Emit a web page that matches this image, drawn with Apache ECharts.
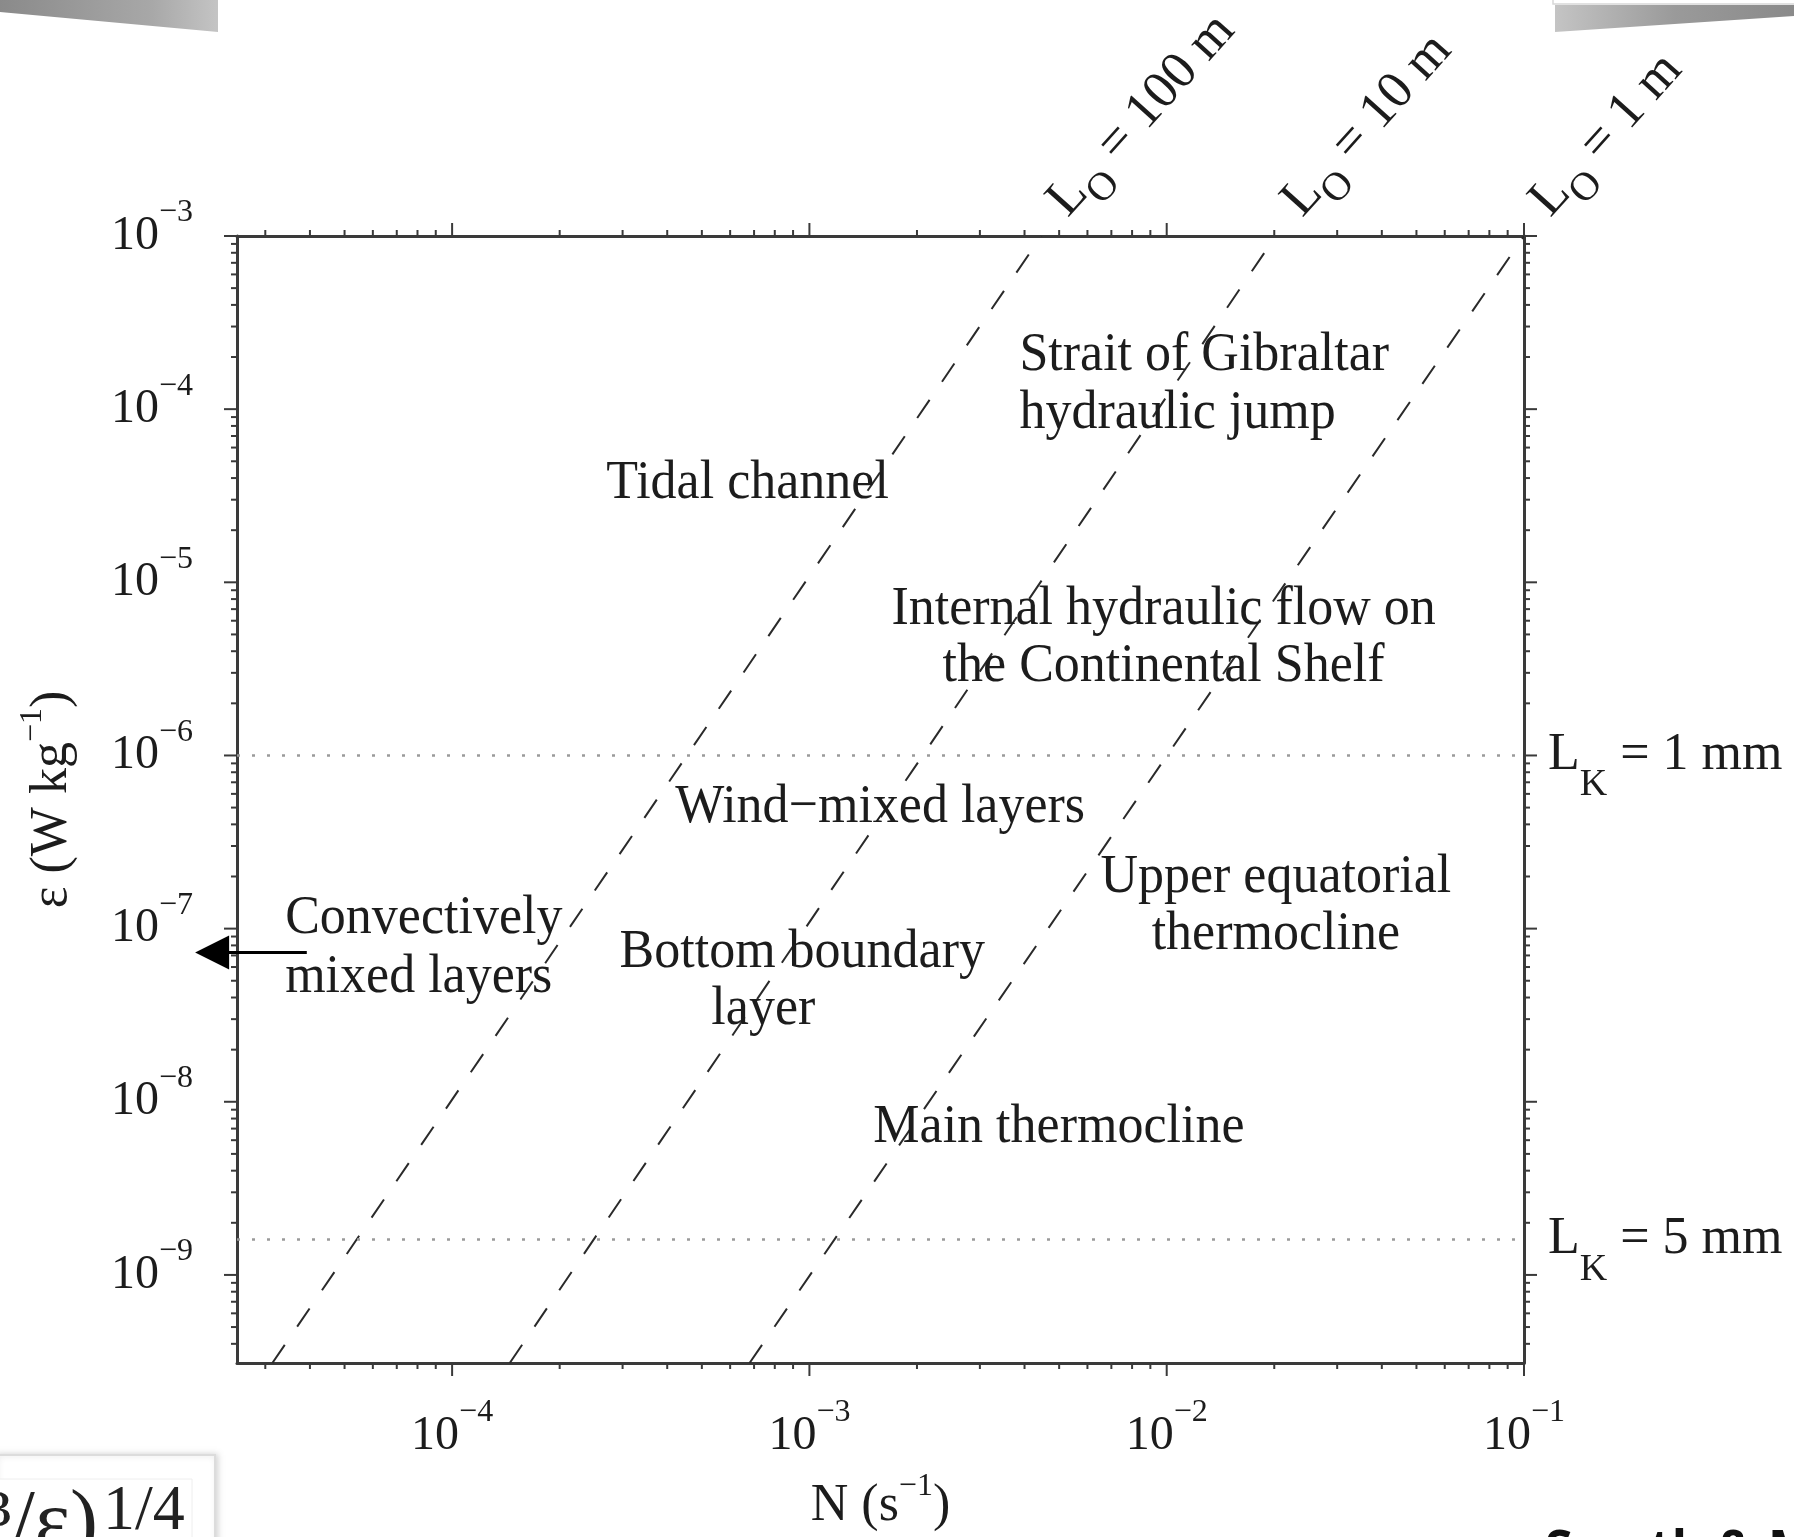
<!DOCTYPE html>
<html><head><meta charset="utf-8">
<script src="https://cdn.jsdelivr.net/npm/echarts@6/dist/echarts.min.js"></script>
<style>html,body{margin:0;padding:0;background:#fff;overflow:hidden}#c{width:1794px;height:1537px}</style>
</head><body><div id="c"></div>
<script>
// ---------- data ----------
const xRange = [2.5e-5, 0.1];          // N (s^-1)
const yRange = [3.1e-10, 1e-3];        // epsilon (W kg^-1)
const xMajorTicks = [1e-4, 1e-3, 1e-2, 1e-1];
const yMajorTicks = [1e-9, 1e-8, 1e-7, 1e-6, 1e-5, 1e-4, 1e-3];
const minorSteps = [2, 3, 4, 5, 6, 7, 8, 9];
const xMinorDecades = [1e-5, 1e-4, 1e-3, 1e-2];
const yMinorDecades = [1e-10, 1e-9, 1e-8, 1e-7, 1e-6, 1e-5, 1e-4];

// Ozmidov-scale lines (end points)
const lo100 = [[3.14e-5, 3.1e-10], [4.46e-3, 1e-3]];
const lo10  = [[1.45e-4, 3.1e-10], [2.02e-2, 1e-3]];
const lo1   = [[6.8e-4, 3.1e-10], [1e-1, 1e-3]];
const loNames = ['100 m', '10 m', '1 m'];

// Kolmogorov-scale lines
const lk1 = [[2.5e-5, 1e-6], [1e-1, 1e-6]];
const lk5 = [[2.5e-5, 1.6e-9], [1e-1, 1.6e-9]];
const lkNames = ['1 mm', '5 mm'];

// arrow (convectively mixed layers, off the left of the axis)
const arrowPts = [[3.92e-5, 7.27e-8], [2.13e-5, 7.27e-8]];

// region labels: text, N, epsilon, alignment
const regionLabels = [
  ['Strait of Gibraltar', 3.87e-3, 2.03e-4, 'left'],
  ['hydraulic jump', 3.87e-3, 9.48e-5, 'left'],
  ['Tidal channel', 2.70e-4, 3.70e-5, 'left'],
  ['Internal hydraulic flow on', 9.8e-3, 6.95e-6, 'center'],
  ['the Continental Shelf', 9.8e-3, 3.25e-6, 'center'],
  ['Wind\u2212mixed layers', 4.21e-4, 5.0e-7, 'left'],
  ['Upper equatorial', 2.02e-2, 1.98e-7, 'center'],
  ['thermocline', 2.02e-2, 9.27e-8, 'center'],
  ['Convectively', 3.41e-5, 1.146e-7, 'left'],
  ['mixed layers', 3.41e-5, 5.2e-8, 'left'],
  ['Bottom boundary', 9.55e-4, 7.27e-8, 'center'],
  ['layer', 7.43e-4, 3.40e-8, 'center'],
  ['Main thermocline', 1.51e-3, 7.1e-9, 'left']
];

// ---------- build ----------
const FONT = '"Liberation Serif", "Times New Roman", serif';
const INK = '#1c1c1c';
const AX = '#3a3a3a';

const tickData = [];
xMajorTicks.forEach(v => tickData.push([v, yRange[0], 0, 1]));
xMinorDecades.forEach(d => minorSteps.forEach(m => { const v = d * m; if (v > xRange[0] && v < xRange[1]) tickData.push([v, yRange[0], 0, 0]); }));
yMajorTicks.forEach(v => tickData.push([xRange[0], v, 1, 1]));
yMinorDecades.forEach(d => minorSteps.forEach(m => { const v = d * m; if (v > yRange[0] && v < yRange[1]) tickData.push([xRange[0], v, 1, 0]); }));

function powLabel(v) {
  const e = Math.round(Math.log10(v));
  return '{b|10}{s|' + (e < 0 ? '\u2212' : '') + Math.abs(e) + '}';
}
const tickRich = {
  b: { fontFamily: FONT, fontSize: 48, color: INK, lineHeight: 78 },
  s: { fontFamily: FONT, fontSize: 32, color: INK, verticalAlign: 'top', lineHeight: 14 }
};
const nameRich = {
  a: { fontFamily: FONT, fontSize: 52, color: INK, lineHeight: 70 },
  s: { fontFamily: FONT, fontSize: 32, color: INK, verticalAlign: 'top', lineHeight: 16 }
};

function dashed(data) {
  return { type: 'line', data: data, showSymbol: false, silent: true, animation: false,
    lineStyle: { color: '#2a2a2a', width: 2, type: [22, 22] } };
}
function dotted(data) {
  return { type: 'line', data: data, showSymbol: false, silent: true, animation: false,
    lineStyle: { color: '#9a9a9a', width: 2.5, type: [3, 12] } };
}

const chart = echarts.init(document.getElementById('c'), null, { renderer: 'canvas' });
const option = {
  animation: false,
  backgroundColor: '#ffffff',
  grid: { left: 237, top: 236, right: 270, bottom: 173, containLabel: false },
  xAxis: [
    { type: 'log', logBase: 10, min: xRange[0], max: xRange[1], position: 'bottom',
      axisLine: { show: true, lineStyle: { color: AX, width: 3 } },
      axisTick: { show: false }, splitLine: { show: false }, minorTick: { show: false },
      axisLabel: { formatter: powLabel, rich: tickRich, margin: 34, showMinLabel: false, showMaxLabel: true, hideOverlap: false },
      name: '{a|N (s}{s|\u22121}{a|)}', nameLocation: 'middle', nameGap: 108,
      nameTextStyle: { rich: nameRich } },
    { type: 'log', logBase: 10, min: xRange[0], max: xRange[1], position: 'top',
      axisLine: { show: true, lineStyle: { color: AX, width: 3 } },
      axisTick: { show: false }, axisLabel: { show: false }, splitLine: { show: false } }
  ],
  yAxis: [
    { type: 'log', logBase: 10, min: yRange[0], max: yRange[1], position: 'left',
      axisLine: { show: true, lineStyle: { color: AX, width: 3 } },
      axisTick: { show: false }, splitLine: { show: false }, minorTick: { show: false },
      axisLabel: { formatter: powLabel, rich: tickRich, margin: 44, showMinLabel: false, showMaxLabel: true, hideOverlap: false },
      name: '{a|\u03b5 (W kg}{s|\u22121}{a|)}', nameLocation: 'middle', nameGap: 150,
      nameTextStyle: { rich: nameRich } },
    { type: 'log', logBase: 10, min: yRange[0], max: yRange[1], position: 'right',
      axisLine: { show: true, lineStyle: { color: AX, width: 3 } },
      axisTick: { show: false }, axisLabel: { show: false }, splitLine: { show: false } }
  ],
  series: [
    dashed(lo100), dashed(lo10), dashed(lo1),
    dotted(lk1), dotted(lk5),
    { type: 'custom', data: tickData, encode: { x: 0, y: 1 }, silent: true, clip: false, z: 5,
      renderItem: function (params, api) {
        const cs = params.coordSys;
        const isY = api.value(2) === 1;
        const len = api.value(3) === 1 ? 13 : 6;
        const segs = [];
        if (!isY) {
          const px = api.coord([api.value(0), yRange[1]])[0];
          segs.push([px, cs.y + cs.height, px, cs.y + cs.height + len]);
          segs.push([px, cs.y, px, cs.y - len]);
        } else {
          const py = api.coord([xRange[0], api.value(1)])[1];
          segs.push([cs.x, py, cs.x - len, py]);
          segs.push([cs.x + cs.width, py, cs.x + cs.width + len, py]);
        }
        return { type: 'group', children: segs.map(s => ({ type: 'line',
          shape: { x1: s[0], y1: s[1], x2: s[2], y2: s[3] },
          style: { stroke: AX, lineWidth: 2 } })) };
      } },
    { type: 'lines', coordinateSystem: 'cartesian2d', silent: true, clip: false, z: 6,
      symbol: ['none', 'triangle'], symbolSize: [26, 34],
      lineStyle: { color: '#000', width: 3, opacity: 1 },
      data: [{ coords: arrowPts }] }
  ]
};
chart.setOption(option);

function px(pt) { return chart.convertToPixel({ xAxisIndex: 0, yAxisIndex: 0 }, pt); }

const g = [];
// region labels
regionLabels.forEach(r => {
  const p = px([r[1], r[2]]);
  g.push({ type: 'text', x: p[0], y: p[1], scaleY: 1.06, z: 20, silent: true,
    style: { text: r[0], font: '52px ' + FONT, fill: INK, align: r[3], verticalAlign: 'middle' } });
});
// L_K labels
[lk1, lk5].forEach((line, i) => {
  const p = px(line[1]);
  g.push({ type: 'text', x: p[0] + 24, y: p[1], z: 20, silent: true,
    style: { text: '{a|L}{k|K}{a| = ' + lkNames[i] + '}', align: 'left', verticalAlign: 'middle',
      rich: { a: { fontFamily: FONT, fontSize: 52, fill: INK, color: INK, lineHeight: 98 },
              k: { fontFamily: FONT, fontSize: 38, fill: INK, color: INK, verticalAlign: 'bottom', lineHeight: 6 } } } });
});
// L_O labels
const ang = 48 * Math.PI / 180;
[lo100, lo10, lo1].forEach((line, i) => {
  const p = px(line[1]);
  g.push({ type: 'text', x: p[0] + 16, y: p[1] - 27, rotation: ang, z: 20, silent: true,
    style: { text: '{a|L}{o|O}{a| = ' + loNames[i] + '}', align: 'left', verticalAlign: 'middle',
      rich: { a: { fontFamily: FONT, fontSize: 53, fill: INK, color: INK, lineHeight: 81 },
              o: { fontFamily: FONT, fontSize: 40, fill: INK, color: INK, verticalAlign: 'bottom', lineHeight: 8 } } } });
});
// slide decorations
g.push({ type: 'polygon', z: 1, silent: true, shape: { points: [[0, 0], [218, 0], [218, 32], [0, 12]] },
  style: { fill: new echarts.graphic.LinearGradient(0, 0, 1, 0, [{ offset: 0, color: '#8a8a8a' }, { offset: 0.7, color: '#a8a8a8' }, { offset: 1, color: '#c4c4c4' }]) } });
g.push({ type: 'rect', z: 1, silent: true, shape: { x: 1553, y: -10, width: 260, height: 14 },
  style: { fill: '#fff', stroke: '#d8d8d8', lineWidth: 1.5 } });
g.push({ type: 'polygon', z: 1, silent: true, shape: { points: [[1555, 5], [1794, 5], [1794, 16], [1555, 32]] },
  style: { fill: new echarts.graphic.LinearGradient(0, 0, 1, 0, [{ offset: 0, color: '#c4c4c4' }, { offset: 0.5, color: '#9a9a9a' }, { offset: 1, color: '#8a8a8a' }]) } });
g.push({ type: 'rect', z: 1, silent: true, shape: { x: -5, y: 1455, width: 220, height: 100 },
  style: { fill: '#fff', stroke: '#dcdcdc', lineWidth: 2, shadowBlur: 6, shadowColor: 'rgba(0,0,0,0.15)', shadowOffsetX: 2 } });
g.push({ type: 'rect', z: 2, silent: true, shape: { x: -5, y: 1479, width: 197, height: 80 },
  style: { fill: '#fff', stroke: '#eeeeee', lineWidth: 1 } });
g.push({ type: 'text', x: 98, y: 1568, z: 3, silent: true,
  style: { text: '(\u03bd\u00b3/\u03b5)', font: '84px ' + FONT, fill: '#222', align: 'right', verticalAlign: 'bottom' } });
g.push({ type: 'text', x: 103, y: 1544, z: 3, silent: true,
  style: { text: '1/4', font: '64px ' + FONT, fill: '#222', align: 'left', verticalAlign: 'bottom' } });
g.push({ type: 'text', x: 1545, y: 1527, z: 3, silent: true,
  style: { text: 'Smyth & Moum', font: 'bold 50px "Open Sans", sans-serif', fill: '#111', align: 'left', verticalAlign: 'top' } });

chart.setOption({ graphic: g });
</script>
</body></html>
